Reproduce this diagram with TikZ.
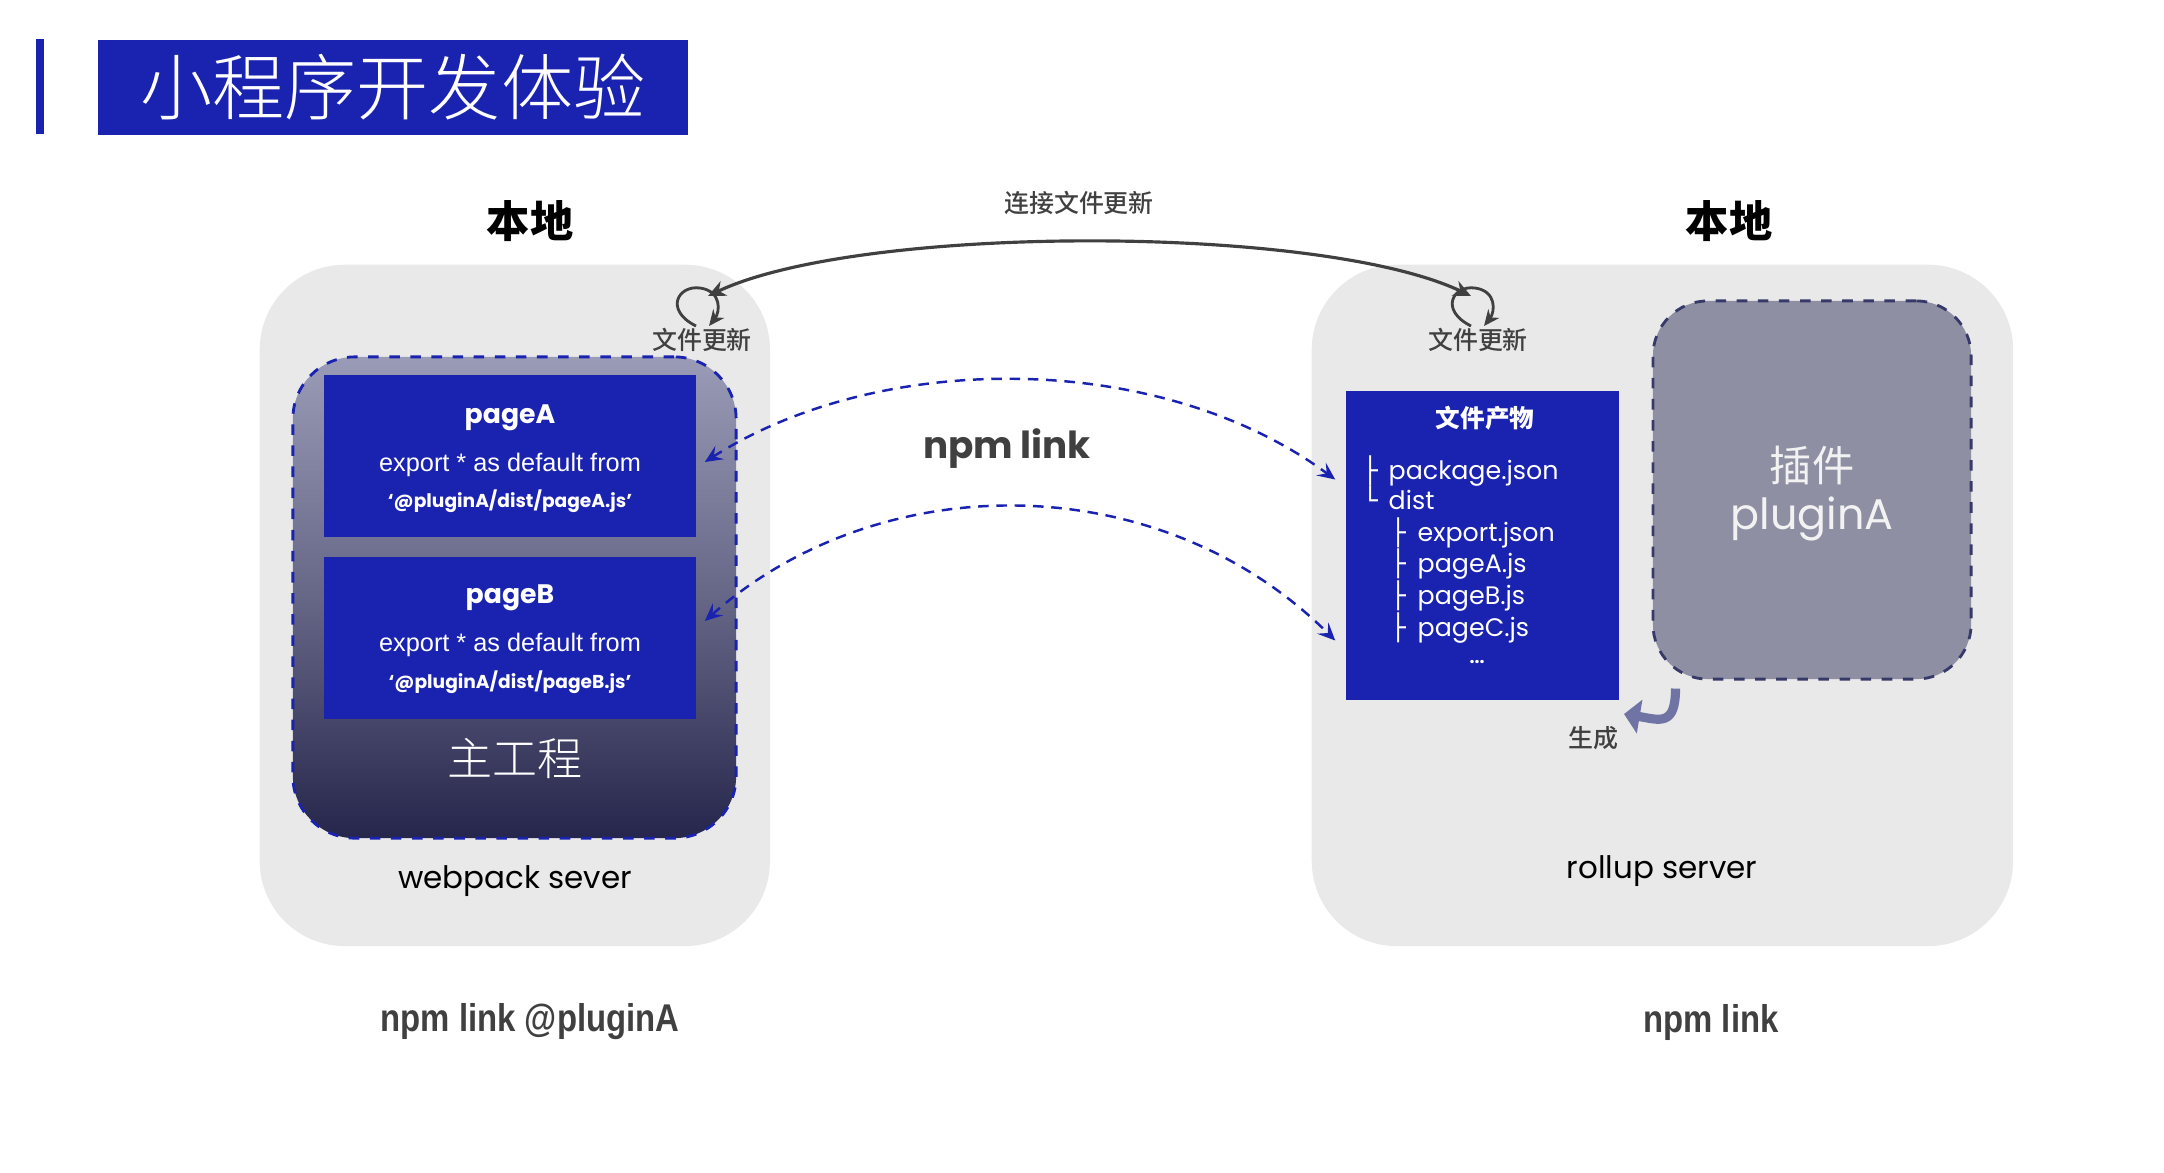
\documentclass[tikz,border=0pt]{standalone}
\usepackage{fontspec}
\setmainfont{Poppins}
\newfontfamily\cjk{Noto Sans CJK SC}
\newfontfamily\cjkmid{Noto Sans CJK SC Medium}
\newfontfamily\cjklight{Noto Sans CJK SC Light}
\newfontfamily\arialfont{Liberation Sans}
\newfontfamily\narrowfont[FakeStretch=0.85]{Liberation Sans}
\newfontfamily\treefont{DejaVu Sans}
\usetikzlibrary{arrows.meta,calc,positioning}

\definecolor{mainblue}{RGB}{26,34,176}
\definecolor{boxgray}{RGB}{233,233,233}
\definecolor{txtgray}{RGB}{64,64,64}
\definecolor{pluginfill}{RGB}{142,143,163}
\definecolor{pluginline}{RGB}{55,58,105}
\definecolor{gradtop}{RGB}{154,155,182}
\definecolor{gradmid}{RGB}{102,103,135}
\definecolor{gradbot}{RGB}{38,38,76}
\definecolor{genblue}{RGB}{112,116,164}

\newcommand{\setfs}[1]{\fontsize{#1}{#1}\selectfont}

\begin{document}
\begin{tikzpicture}[x=0.01cm, y=-0.01cm,
    graybox/.style={fill=boxgray, rounded corners=0.85cm, inner sep=0, anchor=north west},
    pagebox/.style={fill=mainblue, inner sep=0, minimum width=3.72cm, minimum height=1.61cm},
    pagetitle/.style={text=white, inner sep=0, font=\bfseries\setfs{7.6pt}},
    pagecode/.style={text=white, inner sep=0, font=\arialfont\setfs{7.2pt}},
    pagepath/.style={text=white, inner sep=0, font=\bfseries\setfs{5.3pt}},
    treeitem/.style={text=white, inner sep=0, anchor=base west, font=\setfs{7.2pt}},
    smallcn/.style={text=txtgray, inner sep=0, font=\cjkmid\setfs{7.1pt}},
    bigcn/.style={text=black, inner sep=0, font=\cjk\bfseries\setfs{12.3pt}},
    server/.style={text=black, inner sep=0, font=\setfs{8.8pt}},
    cmdlabel/.style={text=txtgray, inner sep=0, font=\narrowfont\bfseries\setfs{11pt}},
    syncarrow/.style={draw=txtgray, line width=0.9pt, {Stealth[length=5pt,width=4.5pt]}-{Stealth[length=5pt,width=4.5pt]}},
    syncloop/.style={draw=txtgray, line width=0.8pt, -{Stealth[length=4.5pt,width=4pt]}},
    linkarrow/.style={draw=mainblue, line width=0.7pt, dash pattern=on 3pt off 2.2pt,
        {Stealth[length=5pt,width=4.5pt,inset=2pt]}-{Stealth[length=5pt,width=4.5pt,inset=2pt]}},
    genarrow/.style={draw=genblue, line width=2.6pt, -{Triangle[length=4.5pt,width=9.5pt]}}]

    \useasboundingbox (0,0) rectangle (2164,1172);

    % === TITLE ===
    \fill[mainblue] (36,39) rectangle (44,134);
    \node[fill=mainblue, anchor=north west, inner sep=0, minimum width=5.90cm, minimum height=0.95cm,
        text=white, font=\cjklight\setfs{20.5pt}] (title) at (97,39) {小程序开发体验};

    % === LEFT: MAIN PROJECT ===
    \node[graybox, minimum width=5.10cm, minimum height=6.81cm] (leftbox) at (259,264) {};
    \node[bigcn] (localL) at (530,221) {本地};
    \node[draw=mainblue, dashed, line width=0.8pt, rounded corners=0.62cm,
        top color=gradtop, bottom color=gradbot, middle color=gradmid,
        minimum width=4.43cm, minimum height=4.81cm, inner sep=0] (main) at (514.5,597.5) {};
    \node[pagebox] (pageA) at (510,456) {};
    \node[pagebox] (pageB) at (510,638) {};
    \node[pagetitle] (pageAname) at ($(pageA)+(0,-38)$) {pageA};
    \node[pagecode] (pageAcode) at ($(pageA)+(0,9)$) {export * as default from};
    \node[pagepath] (pageApath) at ($(pageA)+(0,45)$) {‘@pluginA/dist/pageA.js’};
    \node[pagetitle] (pageBname) at ($(pageB)+(0,-40)$) {pageB};
    \node[pagecode] (pageBcode) at ($(pageB)+(0,7)$) {export * as default from};
    \node[pagepath] (pageBpath) at ($(pageB)+(0,44)$) {‘@pluginA/dist/pageB.js’};
    \node[text=white, inner sep=0, font=\cjklight\setfs{12.8pt}] (mainname) at (515,758) {主工程};
    \node[server] (webpack) at (515,881) {webpack sever};
    \node[cmdlabel] (cmdL) at (530,1022) {npm link @pluginA};

    % === RIGHT: PLUGIN ===
    \node[graybox, minimum width=7.01cm, minimum height=6.81cm] (rightbox) at (1311,264) {};
    \node[bigcn] (localR) at (1729,221) {本地};
    \node[fill=mainblue, inner sep=0, minimum width=2.73cm, minimum height=3.09cm] (files) at (1482.5,545.5) {};
    \node[text=white, inner sep=0, font=\cjk\bfseries\setfs{7pt}] (filestitle) at (1485,418) {文件产物};
    \node[treeitem] (pkg) at (1362,479) {\makebox[0.26cm][l]{\treefont ├}package.json};
    \node[treeitem] (dist) at (1362,509) {\makebox[0.26cm][l]{\treefont └}dist};
    \node[treeitem] (exp) at (1390,541) {\makebox[0.27cm][l]{\treefont ├}export.json};
    \node[treeitem] (jsA) at (1390,572) {\makebox[0.27cm][l]{\treefont ├}pageA.js};
    \node[treeitem] (jsB) at (1390,604) {\makebox[0.27cm][l]{\treefont ├}pageB.js};
    \node[treeitem] (jsC) at (1390,636) {\makebox[0.27cm][l]{\treefont ├}pageC.js};
    \node[text=white, inner sep=0, font=\bfseries\setfs{5pt}] (more) at (1477,662) {...};
    \node[draw=pluginline, fill=pluginfill, dashed, line width=0.8pt, rounded corners=0.55cm,
        minimum width=3.18cm, minimum height=3.78cm, inner sep=0] (plugin) at (1812,490) {};
    \node[text=white!95!black, inner sep=0, font=\cjk\setfs{12pt}] (plugincn) at (1812,465) {插件};
    \node[text=white!95!black, inner sep=0, font=\setfs{12.2pt}] (pluginname) at (1812,519) {pluginA};
    \coordinate (genend) at (1624,714);
    \draw[genarrow] ($(plugin.south west)+(24,8)$) .. controls +(0,38) and +(36,6) .. (genend);
    \node[smallcn] (gen) at (1593,738) {生成};
    \node[server] (rollup) at (1662,871) {rollup server};
    \node[cmdlabel] (cmdR) at (1711,1022) {npm link};

    % === FILE SYNC ===
    \coordinate (loopL) at (698,306);
    \coordinate (loopR) at (1473,306);
    \draw[syncloop] ($(loopL)+(-2,20)$) .. controls ($(loopL)+(-34,4)$) and ($(loopL)+(-20,-21)$) .. ($(loopL)+(2,-18)$)
        .. controls ($(loopL)+(24,-15)$) and ($(loopL)+(22,6)$) .. ($(loopL)+(11,20)$);
    \draw[syncloop] ($(loopR)+(-2,20)$) .. controls ($(loopR)+(-34,4)$) and ($(loopR)+(-20,-21)$) .. ($(loopR)+(2,-18)$)
        .. controls ($(loopR)+(24,-15)$) and ($(loopR)+(22,6)$) .. ($(loopR)+(11,20)$);
    \node[smallcn] (syncL) at (702,340) {文件更新};
    \node[smallcn] (syncR) at (1478,340) {文件更新};
    \draw[syncarrow] ($(loopL)+(10,-10)$) .. controls (860,224) and (1320,224) .. ($(loopR)+(-2,-10)$);
    \node[smallcn] (synctitle) at (1079,203) {连接文件更新};

    % === NPM LINK ===
    \draw[linkarrow] ($(pageA.east)+(8,6)$) .. controls (880,350) and (1160,350) .. ($(files.west)+(-10,-66)$);
    \draw[linkarrow] ($(pageB.east)+(8,-17)$) .. controls (880,466) and (1160,466) .. ($(files.west)+(-10,95)$);
    \node[text=txtgray, inner sep=0, font=\bfseries\setfs{10.6pt}] (npmlink) at (1007,449) {npm link};

\end{tikzpicture}
\end{document}
